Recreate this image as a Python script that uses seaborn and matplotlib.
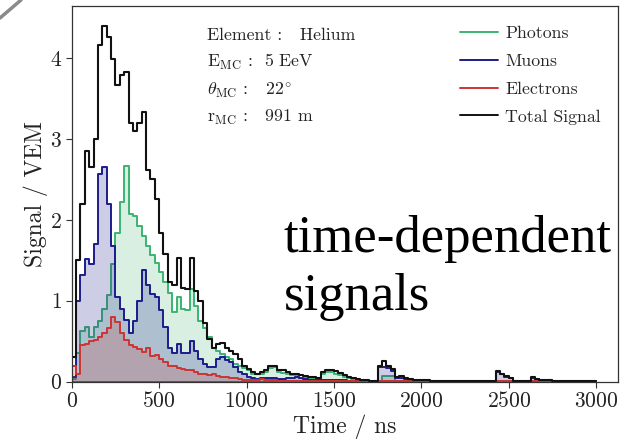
import numpy as np
import pandas as pd
import matplotlib
matplotlib.use("Agg")
import matplotlib.pyplot as plt
import seaborn as sns
from matplotlib.lines import Line2D

# ---------------- data (signal per 25 ns bin, VEM) ----------------
bin_width = 25
time_range = (0, 3000)
bin_centers = np.arange(0, 3000, bin_width) + bin_width / 2

total_signal = [
    0.31, 1.50, 2.20, 2.85, 2.65, 3.00, 4.16, 4.39, 4.26, 3.99,
    3.66, 3.79, 3.83, 3.19, 3.10, 3.20, 3.33, 2.62, 2.50, 2.26,
    1.84, 1.58, 1.23, 1.20, 1.53, 1.16, 1.14, 1.53, 1.12, 1.00,
    0.72, 0.53, 0.42, 0.47, 0.48, 0.42, 0.38, 0.34, 0.28, 0.20,
    0.16, 0.12, 0.10, 0.12, 0.14, 0.19, 0.20, 0.15, 0.14, 0.12,
    0.10, 0.10, 0.08, 0.07, 0.06, 0.06, 0.05, 0.12, 0.15, 0.15,
    0.13, 0.11, 0.08, 0.06, 0.045, 0.035, 0.02, 0.015, 0.01, 0.01,
    0.20, 0.26, 0.19, 0.16, 0.06, 0.07, 0.04, 0.03, 0.02, 0.02,
    0.015, 0.015, 0.01, 0.01, 0.01, 0.01, 0.01, 0.01, 0.01, 0.01,
    0.01, 0.01, 0.01, 0.01, 0.01, 0.01, 0.01, 0.13, 0.10, 0.07,
    0.045, 0.01, 0.01, 0.01, 0.01, 0.055, 0.035, 0.02, 0.02, 0.02,
    0.01, 0.01, 0.01, 0.005, 0.005, 0.005, 0.005, 0.005, 0.005, 0.005,
]

muons = [
    0.06, 1.00, 1.32, 1.52, 1.45, 1.70, 2.57, 2.65, 2.20, 1.68,
    1.04, 0.90, 0.76, 0.60, 0.75, 1.00, 1.38, 1.20, 1.08, 1.05,
    0.88, 0.68, 0.42, 0.36, 0.47, 0.36, 0.36, 0.50, 0.38, 0.28,
    0.22, 0.18, 0.18, 0.28, 0.30, 0.27, 0.24, 0.18, 0.12, 0.09,
    0.06, 0.04, 0.03, 0.04, 0.05, 0.05, 0.04, 0.03, 0.03, 0.04,
    0.04, 0.06, 0.05, 0.03, 0.02, 0.02, 0.02, 0.02, 0.02, 0.02,
    0.02, 0.02, 0.02, 0.01, 0.01, 0.01, 0.01, 0.01, 0.005, 0.005,
    0.18, 0.18, 0.17, 0.13, 0.04, 0.05, 0.03, 0.02, 0.015, 0.015,
    0.01, 0.01, 0.01, 0.01, 0.01, 0.01, 0.01, 0.01, 0.01, 0.01,
    0.01, 0.01, 0.01, 0.01, 0.01, 0.01, 0.01, 0.12, 0.09, 0.06,
    0.04, 0.01, 0.01, 0.01, 0.01, 0.05, 0.03, 0.015, 0.015, 0.015,
    0.01, 0.01, 0.01, 0.005, 0.005, 0.005, 0.005, 0.005, 0.005, 0.005,
]

photons = [
    0.03, 0.35, 0.62, 0.68, 0.55, 0.68, 0.75, 0.90, 1.07, 1.45,
    1.84, 2.22, 2.66, 2.07, 2.05, 1.92, 1.80, 1.68, 1.56, 1.47,
    1.35, 1.23, 1.10, 0.86, 1.04, 0.90, 0.88, 1.14, 0.94, 0.75,
    0.66, 0.55, 0.42, 0.38, 0.34, 0.30, 0.28, 0.22, 0.20, 0.17,
    0.14, 0.10, 0.09, 0.10, 0.12, 0.17, 0.18, 0.12, 0.11, 0.09,
    0.08, 0.07, 0.05, 0.04, 0.04, 0.04, 0.03, 0.10, 0.12, 0.12,
    0.10, 0.08, 0.06, 0.04, 0.03, 0.02, 0.01, 0.01, 0.005, 0.005,
    0.01, 0.07, 0.07, 0.07, 0.01, 0.01, 0.01, 0.005, 0.005, 0.005,
    0.005, 0.005, 0.005, 0.005, 0.005, 0.005, 0.005, 0.005, 0.005, 0.005,
    0.005, 0.005, 0.005, 0.005, 0.005, 0.005, 0.005, 0.005, 0.005, 0.005,
    0.005, 0.005, 0.005, 0.005, 0.005, 0.005, 0.005, 0.005, 0.005, 0.005,
    0.005, 0.005, 0.005, 0.005, 0.005, 0.005, 0.005, 0.005, 0.005, 0.005,
]

electrons = [
    0.20, 0.09, 0.45, 0.47, 0.50, 0.52, 0.55, 0.60, 0.66, 0.80,
    0.74, 0.60, 0.52, 0.45, 0.43, 0.40, 0.37, 0.42, 0.32, 0.33,
    0.28, 0.24, 0.20, 0.20, 0.17, 0.16, 0.15, 0.15, 0.12, 0.10,
    0.10, 0.08, 0.10, 0.07, 0.06, 0.06, 0.05, 0.04, 0.03, 0.02,
    0.02, 0.02, 0.02, 0.03, 0.02, 0.02, 0.015, 0.01, 0.01, 0.01,
    0.01, 0.01, 0.01, 0.01, 0.01, 0.01, 0.01, 0.01, 0.01, 0.01,
    0.01, 0.01, 0.01, 0.01, 0.01, 0.01, 0.01, 0.01, 0.01, 0.01,
    0.01, 0.01, 0.01, 0.01, 0.01, 0.01, 0.01, 0.01, 0.005, 0.005,
    0.005, 0.005, 0.005, 0.005, 0.005, 0.005, 0.005, 0.005, 0.005, 0.005,
    0.005, 0.005, 0.005, 0.005, 0.005, 0.005, 0.005, 0.005, 0.005, 0.005,
    0.005, 0.005, 0.005, 0.005, 0.005, 0.005, 0.005, 0.005, 0.005, 0.005,
    0.005, 0.005, 0.005, 0.005, 0.005, 0.005, 0.005, 0.005, 0.005, 0.005,
]

series_names = ["Photons", "Muons", "Electrons", "Total Signal"]
info_lines = [
    "Element :   Helium",
    r"$\mathrm{E}_{\mathrm{MC}}$ :  5 EeV",
    r"$\theta_{\mathrm{MC}}$ :   $22^{\circ}$",
    r"$\mathrm{r}_{\mathrm{MC}}$ :   991 m",
]
caption_lines = ["time-dependent", "signals"]

df = pd.DataFrame({
    "t": bin_centers,
    "photons": photons,
    "muons": muons,
    "electrons": electrons,
    "total": total_signal,
})

# ---------------- style ----------------
sns.set_theme(style="white")
plt.rcParams.update({
    "font.family": "serif",
    "font.serif": ["cmr10"],
    "mathtext.fontset": "cm",
    "axes.formatter.use_mathtext": True,
    "axes.unicode_minus": False,
})

c_photon = "#3cb371"
c_muon = "#1c1c8c"
c_elec = "#cc3333"
c_total = "#111111"

W, H = 630, 440
ax_l, ax_r, ax_t, ax_b = 71.7, 618, 6, 381.7
fig = plt.figure(figsize=(W / 100, H / 100), dpi=100)
ax = fig.add_axes([ax_l / W, 1 - ax_b / H, (ax_r - ax_l) / W, (ax_b - ax_t) / H])

def axx(px):
    return (px - ax_l) / (ax_r - ax_l)

def axy(py):
    return (ax_b - py) / (ax_b - ax_t)

common = dict(data=df, x="t", binwidth=bin_width, binrange=time_range, element="step", ax=ax)
sns.histplot(weights="photons", fill=True, color=c_photon, alpha=0.2, linewidth=1.4, **common)
sns.histplot(weights="muons", fill=True, color=c_muon, alpha=0.22, linewidth=1.4, **common)
sns.histplot(weights="electrons", fill=True, color=c_elec, alpha=0.2, linewidth=1.4, **common)
sns.histplot(weights="total", fill=False, color=c_total, linewidth=1.5, **common)

ax.set_xlim(0, 3125)
ax.set_ylim(0, 4.64)
ax.set_xticks([0, 500, 1000, 1500, 2000, 2500, 3000])
ax.set_yticks([0, 1, 2, 3, 4])
ax.tick_params(axis="both", which="major", direction="out", length=4, width=0.8,
               left=True, bottom=True, labelsize=15.5, pad=3, color="#333333",
               labelcolor="#222222")
for s in ax.spines.values():
    s.set_color("#333333")
    s.set_linewidth(0.9)
ax.set_xlabel("Time / ns", fontsize=17, labelpad=2, color="#222222")
ax.set_ylabel("Signal / VEM", fontsize=17, labelpad=1, color="#222222")

# info block
base_y = [40, 67, 94.5, 122]
for txt, by in zip(info_lines, base_y):
    ax.text(axx(207), axy(by), txt, transform=ax.transAxes, fontsize=12.8,
            va="baseline", ha="left", color="#222222")

handles = [Line2D([], [], color=c, lw=1.4) for c in [c_photon, c_muon, c_elec, c_total]]
ax.legend(handles, series_names, loc="upper left", bbox_to_anchor=(axx(460), axy(26)),
          frameon=False, fontsize=12.8, handlelength=2.15, handletextpad=0.4,
          labelspacing=0.69, borderaxespad=0.0, borderpad=0.0)

# overlay caption
for line, by in zip(caption_lines, [251.7, 310]):
    fig.text(284 / W, 1 - by / H, line, family="Liberation Serif",
             fontsize=38, ha="left", va="baseline", color="black")

# corner stroke
fig.add_artist(Line2D([0, 21 / W], [1 - 18 / H, 1.0], transform=fig.transFigure,
                      color="#8a8a8a", lw=2.5))

fig.savefig("out.png", dpi=100)
